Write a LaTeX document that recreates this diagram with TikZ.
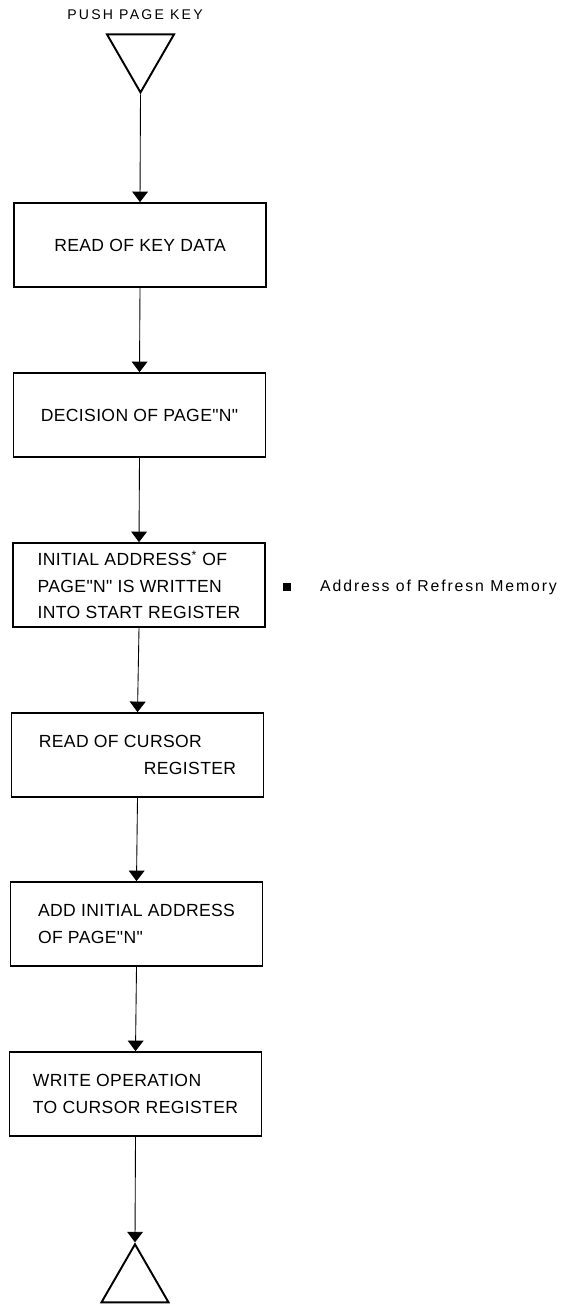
\documentclass[tikz,border=0pt]{standalone}
\usepackage{fontspec}
\usepackage{tikz}
\usetikzlibrary{arrows.meta, shapes.geometric}
\newfontfamily\flowfont[LetterSpace=2]{Liberation Sans}
\newfontfamily\keyfont[LetterSpace=16]{Liberation Sans}
\newfontfamily\notefont[LetterSpace=12]{Liberation Sans}

\tikzset{
  stepbox/.style={draw, line width=1pt, minimum width=5.04cm, minimum height=1.68cm,
    inner sep=0pt, font=\flowfont\fontsize{10}{15}\selectfont},
  termtri/.style={draw, line width=1.1pt, regular polygon, regular polygon sides=3,
    minimum size=1.55cm, inner sep=0pt},
  flow/.style={line width=0.5pt, -{Triangle[width=9pt,length=6pt]}}
}

\begin{document}
\begin{tikzpicture}[x=0.02cm, y=-0.02cm]
  \useasboundingbox (0,0) rectangle (571,1307);
  % start of the routine
  \node[font=\keyfont\fontsize{8}{9}\selectfont] (pushkey) at (135,15) {PUSH PAGE KEY};
  \node[termtri, shape border rotate=180] (start) at (140.5,53.7) {};
  % steps
  \node[stepbox, align=center] (keydata) at (140,245) {READ OF KEY DATA};
  \node[stepbox, align=center] (pagen) at (139.5,415) {DECISION OF PAGE"N"};
  \node[stepbox, align=left] (initaddr) at (139,585)
    {INITIAL ADDRESS\textsuperscript{*} OF\\PAGE"N" IS WRITTEN\\INTO START REGISTER};
  \node[stepbox, align=left] (readcur) at (137.5,755)
    {READ OF CURSOR\\\hspace*{2.1cm}REGISTER};
  \node[stepbox, align=left] (addinit) at (136.5,924)
    {ADD INITIAL ADDRESS\\OF PAGE"N"};
  \node[stepbox, align=left] (writecur) at (135.5,1094)
    {WRITE OPERATION\\TO CURSOR REGISTER};
  % end of the routine
  \node[termtri] (stop) at (135,1283) {};
  % footnote to the asterisk
  \node[fill, minimum size=4.5pt, inner sep=0pt] (notesq) at (287,587) {};
  \node[anchor=west, font=\notefont\fontsize{9}{11}\selectfont] (note) at (314,587)
    {Address of Refresn Memory};
  % connectors
  \draw[flow] (start.corner 1) -- (keydata.north);
  \draw[flow] (keydata.south) -- (pagen.north);
  \draw[flow] (pagen.south) -- (initaddr.north);
  \draw[flow] (initaddr.south) -- (readcur.north);
  \draw[flow] (readcur.south) -- (addinit.north);
  \draw[flow] (addinit.south) -- (writecur.north);
  \draw[flow] (writecur.south) -- (stop.corner 1);
\end{tikzpicture}
\end{document}
